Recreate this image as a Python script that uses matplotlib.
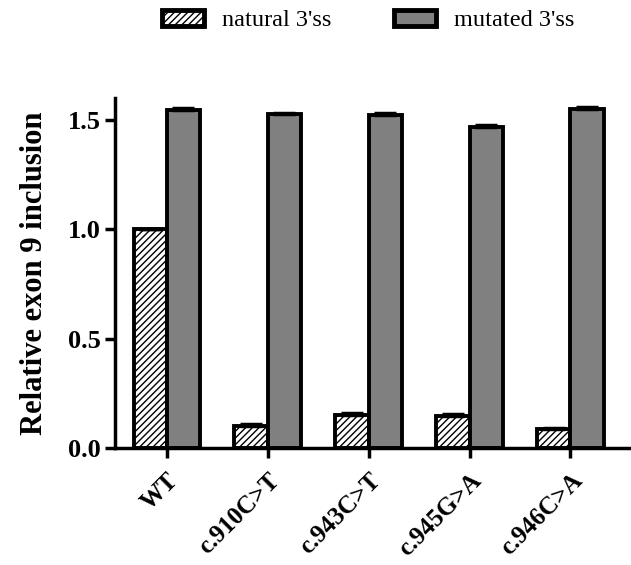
import matplotlib
matplotlib.use("Agg")
import matplotlib.pyplot as plt
import numpy as np

groups = ["WT", "c.910C>T", "c.943C>T", "c.945G>A", "c.946C>A"]
natural = [1.0, 0.10, 0.15, 0.145, 0.085]
natural_err = [0.0, 0.012, 0.012, 0.010, 0.008]
mutated = [1.545, 1.525, 1.52, 1.468, 1.548]
mutated_err = [0.010, 0.006, 0.010, 0.006, 0.010]

plt.rcParams["font.family"] = ["Liberation Serif", "DejaVu Serif"]
plt.rcParams["hatch.linewidth"] = 1.0

fig = plt.figure(figsize=(6.31, 5.65), dpi=100)
ax = fig.add_axes([0.182, 0.207, 0.818, 0.62])

x = np.arange(len(groups))
w = 0.33
b1 = ax.bar(x - w / 2, natural, w, color="white", edgecolor="black",
            hatch="/////", linewidth=2.8, label="natural 3'ss", zorder=2)
b2 = ax.bar(x + w / 2, mutated, w, color="#808080", edgecolor="black",
            linewidth=2.8, label="mutated 3'ss", zorder=2)
ax.errorbar(x - w / 2, natural, yerr=[np.zeros(len(x)), natural_err], fmt="none",
            ecolor="black", elinewidth=2, capsize=8, capthick=2.5, zorder=3)
ax.errorbar(x + w / 2, mutated, yerr=[np.zeros(len(x)), mutated_err], fmt="none",
            ecolor="black", elinewidth=2, capsize=8, capthick=2.5, zorder=3)

ax.set_xlim(-0.515, 4.6)
ax.set_ylim(0, 1.6)
ax.set_yticks([0.0, 0.5, 1.0, 1.5])
ax.set_yticklabels(["0.0", "0.5", "1.0", "1.5"], fontsize=19, fontweight="bold")
ax.set_xticks(x)
ax.set_xticklabels(groups, rotation=45, ha="right", rotation_mode="anchor",
                   fontsize=18, fontweight="bold")
ax.tick_params(axis="both", width=2.5, length=7)
ax.tick_params(axis="x", pad=8)
ax.tick_params(axis="y", pad=3)
ax.set_ylabel("Relative exon 9 inclusion", fontsize=22, fontweight="bold", labelpad=14)

for side in ["top", "right"]:
    ax.spines[side].set_visible(False)
for side in ["left", "bottom"]:
    ax.spines[side].set_linewidth(2.5)

leg = fig.legend(handles=[b1, b2], loc="center left", bbox_to_anchor=(0.256, 0.964),
                 ncol=2, frameon=False, fontsize=17.5, handlelength=1.75,
                 handleheight=0.65, handletextpad=0.75, columnspacing=2.55,
                 borderpad=0, borderaxespad=0)
for h in leg.legend_handles:
    h.set_linewidth(3.5)

fig.savefig("out.png", dpi=100)
